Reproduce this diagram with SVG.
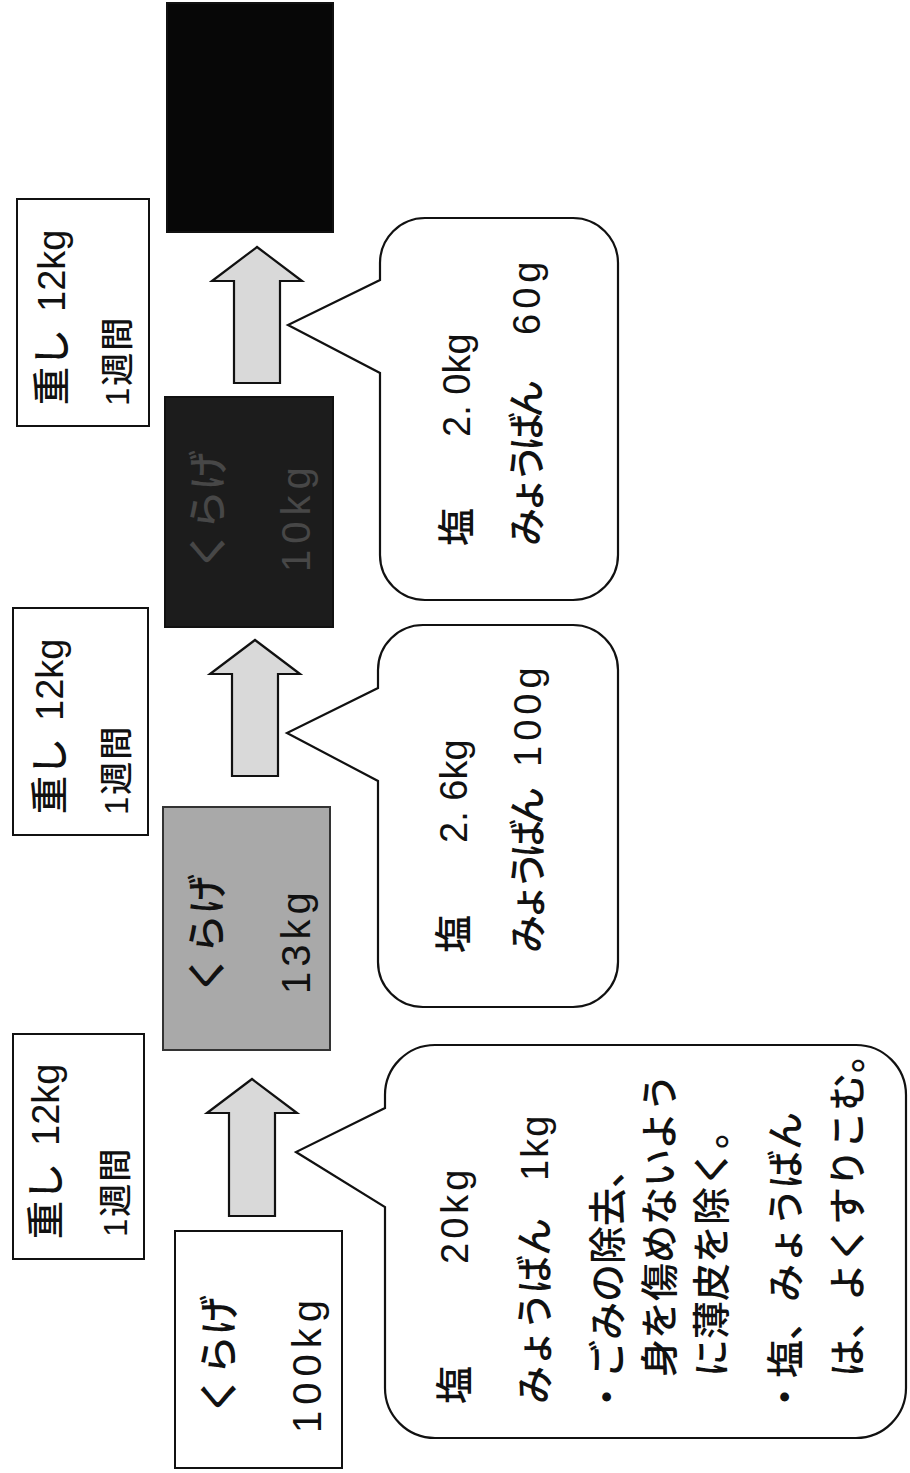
<svg xmlns="http://www.w3.org/2000/svg" width="910" height="1473" viewBox="0 0 910 1473">
<style>
text{font-family:"Liberation Sans","Noto Sans CJK JP",sans-serif;dominant-baseline:central;fill:#111;font-weight:500}
.box{fill:#fff;stroke:#111;stroke-width:2}
.bub{fill:#fff;stroke:#111;stroke-width:2.2;stroke-linejoin:miter}
.arr{fill:#d9d9d9;stroke:#111;stroke-width:2.2;stroke-linejoin:miter}
.lbl{font-size:40px}
.w1{font-size:38px}
.w2{font-size:33px;letter-spacing:2px}
.bt{font-size:38px}
.num{letter-spacing:6px}
</style>
<rect width="910" height="1473" fill="#fff"/>

<g id="connectors">
<polygon class="arr" points="252,1079 297,1113 275,1113 275,1216 229,1216 229,1113 207,1113"/>
<polygon class="arr" points="255,640 300,674 278,674 278,776 232,776 232,674 210,674"/>
<polygon class="arr" points="257,247 302,281 280,281 280,383 234,383 234,281 212,281"/>
</g>

<g id="kurage-100kg">
<rect class="box" x="175" y="1231" width="167" height="237"/>
<text class="lbl" transform="rotate(-90)" x="-1415" y="219">くらげ</text>
<text class="lbl num" transform="rotate(-90)" x="-1433" y="307">100kg</text>
</g>

<g id="kurage-13kg">
<rect x="163" y="807" width="167" height="243" fill="#a9a9a9" stroke="#333" stroke-width="2"/>
<text class="lbl" transform="rotate(-90)" x="-994" y="207" fill="#222">くらげ</text>
<text class="lbl num" transform="rotate(-90)" x="-994" y="296" fill="#222" style="letter-spacing:5px">13kg</text>
</g>

<g id="kurage-10kg">
<rect x="165" y="397" width="168" height="230" fill="#1c1c1c" stroke="#111" stroke-width="2"/>
<text class="lbl" transform="rotate(-90)" x="-570" y="208" style="fill:#474747">くらげ</text>
<text class="lbl num" transform="rotate(-90)" x="-572" y="296" style="fill:#474747">10kg</text>
</g>

<g id="final">
<rect x="167" y="3" width="166" height="229" fill="#070707" stroke="#111" stroke-width="2"/>
</g>

<g id="weight-1">
<rect class="box" x="13" y="1034" width="131" height="225"/>
<text class="w1" transform="rotate(-90)" x="-1239" y="46">重し <tspan x="-1146">12kg</tspan></text>
<text class="w2" transform="rotate(-90)" x="-1237" y="115">1週間</text>
</g>

<g id="weight-2">
<rect class="box" x="13" y="608" width="135" height="227"/>
<text class="w1" transform="rotate(-90)" x="-814" y="50">重し <tspan x="-721">12kg</tspan></text>
<text class="w2" transform="rotate(-90)" x="-815" y="116">1週間</text>
</g>

<g id="weight-3">
<rect class="box" x="17" y="199" width="132" height="227"/>
<text class="w1" transform="rotate(-90)" x="-405" y="52">重し <tspan x="-312">12kg</tspan></text>
<text class="w2" transform="rotate(-90)" x="-406" y="117">1週間</text>
</g>

<g id="bubble-1">
<path class="bub" d="M435,1045 H856 A50,50 0 0 1 906,1095 V1388 A50,50 0 0 1 856,1438 H435 A50,50 0 0 1 385,1388 V1207 L296,1152 L385,1108 V1095 A50,50 0 0 1 435,1045 Z"/>
<text class="bt" transform="rotate(-90)" x="-1404" y="455">塩<tspan x="-1264" style="letter-spacing:4px">20kg</tspan></text>
<text class="bt" transform="rotate(-90)" x="-1404" y="535" style="letter-spacing:-1px">みょうばん<tspan x="-1181" style="letter-spacing:2px">1kg</tspan></text>
<text class="bt" transform="rotate(-90)" x="-1416" y="608">・ごみの除去、</text>
<text class="bt" transform="rotate(-90)" x="-1377" y="660">身を傷めないよう</text>
<text class="bt" transform="rotate(-90)" x="-1377" y="712">に薄皮を除く。</text>
<text class="bt" transform="rotate(-90)" x="-1416" y="786">・塩、みょうばん</text>
<text class="bt" transform="rotate(-90)" x="-1377" y="848">は、よくすりこむ。</text>
</g>

<g id="bubble-2">
<path class="bub" d="M423,625 H573 A45,45 0 0 1 618,670 V962 A45,45 0 0 1 573,1007 H423 A45,45 0 0 1 378,962 V781 L287,733 L378,688 V670 A45,45 0 0 1 423,625 Z"/>
<text class="bt" transform="rotate(-90)" x="-953" y="454">塩<tspan x="-843">2. 6kg</tspan></text>
<text class="bt" transform="rotate(-90)" x="-953" y="528" style="letter-spacing:-6px">みょうばん<tspan x="-767" style="letter-spacing:5px">100g</tspan></text>
</g>

<g id="bubble-3">
<path class="bub" d="M425,218 H573 A45,45 0 0 1 618,263 V555 A45,45 0 0 1 573,600 H425 A45,45 0 0 1 380,555 V373 L288,325 L380,280 V263 A45,45 0 0 1 425,218 Z"/>
<text class="bt" transform="rotate(-90)" x="-546" y="457">塩<tspan x="-437">2. 0kg</tspan></text>
<text class="bt" transform="rotate(-90)" x="-546" y="527" style="letter-spacing:-6px">みょうばん<tspan x="-335" style="letter-spacing:5px">60g</tspan></text>
</g>
</svg>
